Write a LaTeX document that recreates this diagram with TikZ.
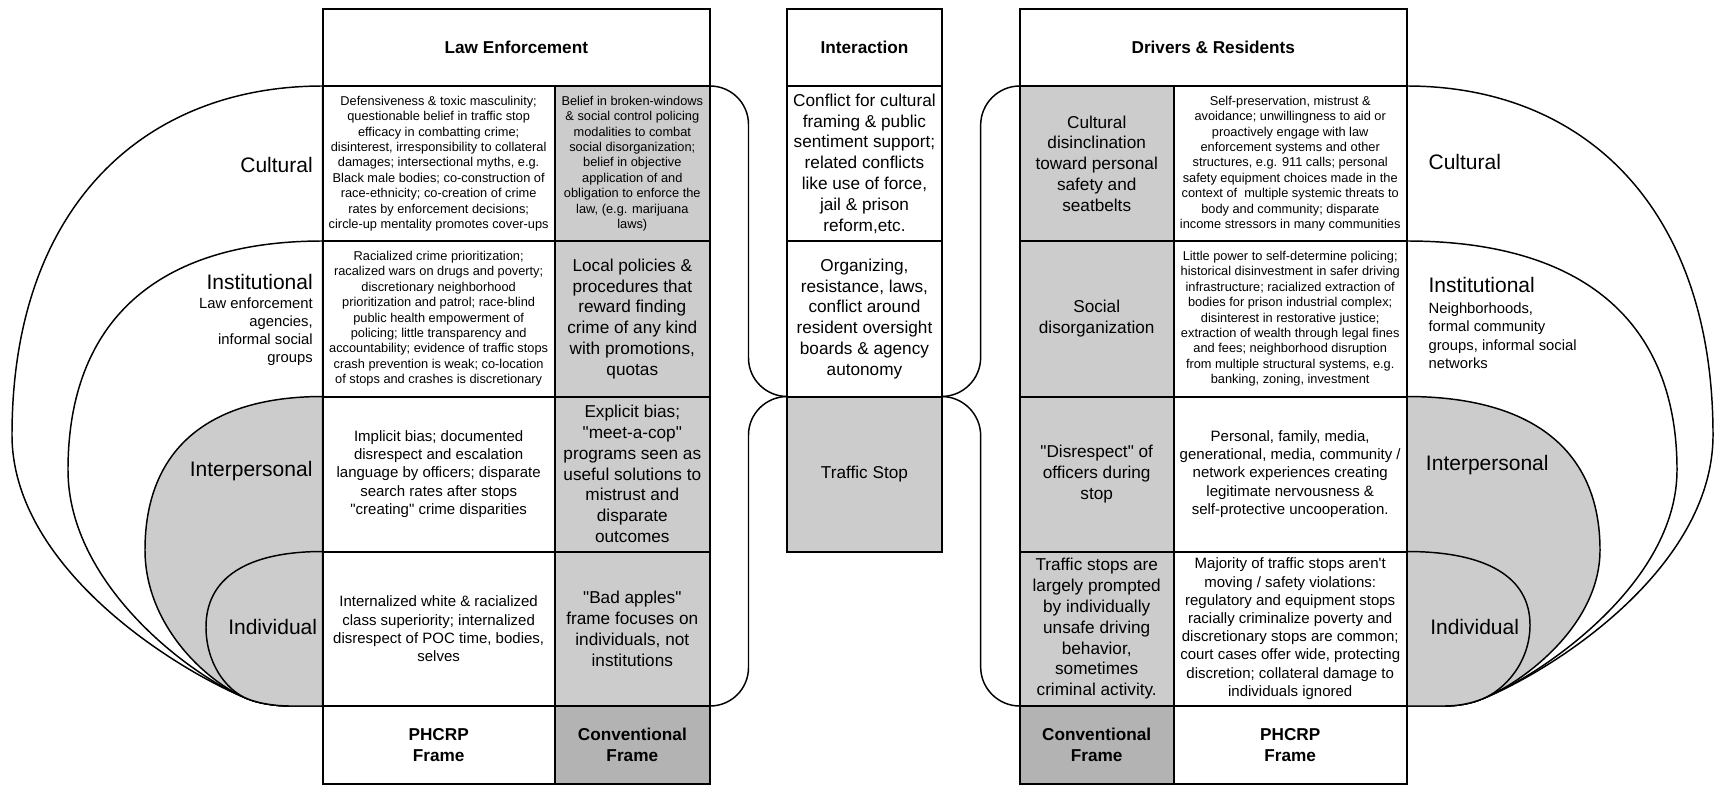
\documentclass[tikz,border=0pt]{standalone}
\usepackage{fontspec}
\newfontfamily\libsans{Liberation Sans}
\definecolor{cellgray}{HTML}{CCCCCC}
\definecolor{framegray}{HTML}{B3B3B3}
\newcommand\fsmall{\libsans\fontsize{9.6}{11.55}\selectfont}
\newcommand\fmid{\libsans\fontsize{11.25}{13.65}\selectfont}
\newcommand\fmed{\libsans\fontsize{12.9}{15.6}\selectfont}
\newcommand\fhead{\libsans\fontsize{12.9}{15.75}\selectfont\bfseries}
\newcommand\fbig{\libsans\fontsize{15.75}{18}\selectfont}
\newcommand\fsub{\libsans\fontsize{11.1}{13.6}\selectfont}
\begin{document}
\begin{tikzpicture}[x=0.75pt,y=-0.75pt,
  grid/.style={line width=1.5pt,draw=black},
  level/.style={line width=1.1pt,draw=black,line join=round},
  bracket/.style={line width=1.1pt,draw=black},
  txt/.style={inner sep=0pt,align=center,text=black},
  small/.style={txt,font=\fsmall},
  mid/.style={txt,font=\fmid},
  med/.style={txt,font=\fmed},
  hdr/.style={txt,font=\fhead},
  lvl/.style={inner sep=0pt,font=\fbig},
  sub/.style={inner sep=0pt,font=\fsub}]
\useasboundingbox (0,0) rectangle (1715,785);

% ---- socio-ecological levels, law enforcement side ----
\path[level,fill=white] (322.7,86) .. controls (142.5,86) and (12,208.2) .. (12,435)
  .. controls (12,567) and (174,669) .. (248,699)
  .. controls (259,703.5) and (276,706) .. (290,706) -- (322.7,706) -- cycle;
\path[level,fill=white] (322.7,241) .. controls (157.1,241) and (68,321.2) .. (68,470)
  .. controls (68,585) and (192,677) .. (248,699)
  .. controls (259,703.5) and (276,706) .. (290,706) -- (322.7,706) -- cycle;
\path[level,fill=cellgray] (322.7,396.5) .. controls (207.2,396.5) and (145,450.2) .. (145,550)
  .. controls (145,625) and (206,682) .. (248,699)
  .. controls (259,703.5) and (276,706) .. (290,706) -- (322.7,706) -- cycle;
\path[level,fill=cellgray] (322.7,551.5) .. controls (246.8,551.5) and (206,577.9) .. (206,627)
  .. controls (206,662) and (225,690) .. (248,699)
  .. controls (259,703.5) and (276,706) .. (290,706) -- (322.7,706) -- cycle;

% ---- socio-ecological levels, drivers & residents side ----
\path[level,fill=white] (1406.8,86) .. controls (1584.4,86) and (1713,208.2) .. (1713,435)
  .. controls (1713,567) and (1556,669) .. (1482,699)
  .. controls (1471,703.5) and (1458,706) .. (1444,706) -- (1406.8,706) -- cycle;
\path[level,fill=white] (1406.8,241) .. controls (1582.4,241) and (1677,321.2) .. (1677,470)
  .. controls (1677,585) and (1538,677) .. (1482,699)
  .. controls (1471,703.5) and (1458,706) .. (1444,706) -- (1406.8,706) -- cycle;
\path[level,fill=cellgray] (1406.8,396.5) .. controls (1532.4,396.5) and (1600,450.2) .. (1600,550)
  .. controls (1600,625) and (1524,682) .. (1482,699)
  .. controls (1471,703.5) and (1458,706) .. (1444,706) -- (1406.8,706) -- cycle;
\path[level,fill=cellgray] (1406.8,551.5) .. controls (1486.9,551.5) and (1530,577.2) .. (1530,625)
  .. controls (1530,662) and (1505,690) .. (1482,699)
  .. controls (1471,703.5) and (1458,706) .. (1444,706) -- (1406.8,706) -- cycle;

% ---- brackets tying the interaction column to both sides ----
\draw[bracket] (710,86) .. controls (731.3,86) and (748.5,103.2) .. (748.5,124.5)
  -- (748.5,358) .. controls (748.5,379.3) and (765.9,396.5) .. (787.4,396.5);
\draw[bracket] (787.4,396.5) .. controls (765.9,396.5) and (748.5,413.7) .. (748.5,435)
  -- (748.5,667.5) .. controls (748.5,688.8) and (731.3,706) .. (710,706);
\draw[bracket] (1019.8,86) .. controls (998.2,86) and (980.65,103.6) .. (980.65,125.2)
  -- (980.65,357.4) .. controls (980.65,379) and (963.1,396.5) .. (941.5,396.5);
\draw[bracket] (941.5,396.5) .. controls (963.1,396.5) and (980.65,414.1) .. (980.65,435.7)
  -- (980.65,666.9) .. controls (980.65,688.5) and (998.2,706) .. (1019.8,706);

% ---- table cells ----
\draw[grid,fill=white] (322.7,8.5) rectangle (710,86);
\draw[grid,fill=white] (787.4,8.5) rectangle (941.5,86);
\draw[grid,fill=white] (1019.8,8.5) rectangle (1406.8,86);
\foreach \ya/\yb in {86/241,241/396.5,396.5/551.5,551.5/706} {
  \draw[grid,fill=white] (322.7,\ya) rectangle (554.6,\yb);
  \draw[grid,fill=cellgray] (554.6,\ya) rectangle (710,\yb);
  \draw[grid,fill=cellgray] (1019.8,\ya) rectangle (1173.6,\yb);
  \draw[grid,fill=white] (1173.6,\ya) rectangle (1406.8,\yb);
}
\draw[grid,fill=white] (787.4,86) rectangle (941.5,241);
\draw[grid,fill=white] (787.4,241) rectangle (941.5,396.5);
\draw[grid,fill=cellgray] (787.4,396.5) rectangle (941.5,551.5);
\draw[grid,fill=white] (322.7,706) rectangle (554.6,783.5);
\draw[grid,fill=framegray] (554.6,706) rectangle (710,783.5);
\draw[grid,fill=framegray] (1019.8,706) rectangle (1173.6,783.5);
\draw[grid,fill=white] (1173.6,706) rectangle (1406.8,783.5);

% ---- headers ----
\node[hdr] (le-head) at (516.35,47.25) {Law Enforcement};
\node[hdr] (ia-head) at (864.45,47.25) {Interaction};
\node[hdr] (dr-head) at (1213.3,47.25) {Drivers \& Residents};

% ---- law enforcement cells ----
\node[small] (le-cul-p) at (438.65,163.5) {Defensiveness \& toxic masculinity;\\
questionable belief in traffic stop\\
efficacy in combatting crime;\\
disinterest, irresponsibility to collateral\\
damages; intersectional myths, e.g.\\
Black male bodies; co-construction of\\
race-ethnicity; co-creation of crime\\
rates by enforcement decisions;\\
circle-up mentality promotes cover-ups};
\node[small] (le-cul-c) at (632.3,163.5) {Belief in broken-windows\\
\& social control policing\\
modalities to combat\\
social disorganization;\\
belief in objective\\
application of and\\
obligation to enforce the\\
law, (e.g. marijuana\\
laws)};
\node[small] (le-ins-p) at (438.65,318.75) {Racialized crime prioritization;\\
racalized wars on drugs and poverty;\\
discretionary neighborhood\\
prioritization and patrol; race-blind\\
public health empowerment of\\
policing; little transparency and\\
accountability; evidence of traffic stops\\
crash prevention is weak; co-location\\
of stops and crashes is discretionary};
\node[med] (le-ins-c) at (632.3,318.75) {Local policies \&\\procedures that\\reward finding\\crime of any kind\\with promotions,\\quotas};
\node[mid] (le-int-p) at (438.65,474) {Implicit bias; documented\\disrespect and escalation\\language by officers; disparate\\search rates after stops\\"creating" crime disparities};
\node[med] (le-int-c) at (632.3,474) {Explicit bias;\\"meet-a-cop"\\programs seen as\\useful solutions to\\mistrust and\\disparate\\outcomes};
\node[mid] (le-ind-p) at (438.65,628.75) {Internalized white \& racialized\\class superiority; internalized\\disrespect of POC time, bodies,\\selves};
\node[med] (le-ind-c) at (632.3,628.75) {"Bad apples"\\frame focuses on\\individuals, not\\institutions};
\node[hdr] (le-foot-p) at (438.65,744.75) {PHCRP\\Frame};
\node[hdr] (le-foot-c) at (632.3,744.75) {Conventional\\Frame};

% ---- interaction cells ----
\node[med] (ia-cul) at (864.45,163.5) {Conflict for cultural\\framing \& public\\sentiment support;\\related conflicts\\like use of force,\\jail \& prison\\reform,etc.};
\node[med] (ia-ins) at (864.45,318.75) {Organizing,\\resistance, laws,\\conflict around\\resident oversight\\boards \& agency\\autonomy};
\node[med] (ia-stop) at (864.45,474) {Traffic Stop};

% ---- drivers & residents cells ----
\node[med] (dr-cul-c) at (1096.7,163.5) {Cultural\\disinclination\\toward personal\\safety and\\seatbelts};
\node[small] (dr-cul-p) at (1290.2,163.5) {Self-preservation, mistrust \&\\
avoidance; unwillingness to aid or\\
proactively engage with law\\
enforcement systems and other\\
structures, e.g. 911 calls; personal\\
safety equipment choices made in the\\
context of \ multiple systemic threats to\\
body and community; disparate\\
income stressors in many communities};
\node[med] (dr-ins-c) at (1096.7,318.75) {Social\\disorganization};
\node[small] (dr-ins-p) at (1290.2,318.75) {Little power to self-determine policing;\\
historical disinvestment in safer driving\\
infrastructure; racialized extraction of\\
bodies for prison industrial complex;\\
disinterest in restorative justice;\\
extraction of wealth through legal fines\\
and fees; neighborhood disruption\\
from multiple structural systems, e.g.\\
banking, zoning, investment};
\node[med] (dr-int-c) at (1096.7,474) {"Disrespect" of\\officers during\\stop};
\node[mid] (dr-int-p) at (1290.2,474) {Personal, family, media,\\generational, media, community /\\network experiences creating\\legitimate nervousness \&\\self-protective uncooperation.};
\node[med] (dr-ind-c) at (1096.7,628.75) {Traffic stops are\\largely prompted\\by individually\\unsafe driving\\behavior,\\sometimes\\criminal activity.};
\node[mid] (dr-ind-p) at (1290.2,628.75) {Majority of traffic stops aren't\\moving / safety violations:\\regulatory and equipment stops\\racially criminalize poverty and\\discretionary stops are common;\\court cases offer wide, protecting\\discretion; collateral damage to\\individuals ignored};
\node[hdr] (dr-foot-c) at (1096.7,744.75) {Conventional\\Frame};
\node[hdr] (dr-foot-p) at (1290.2,744.75) {PHCRP\\Frame};

% ---- level labels ----
\node[lvl,anchor=east] (l-cul) at (313,165) {Cultural};
\node[lvl,anchor=east] (l-ins) at (313,281.7) {Institutional};
\node[sub,anchor=east,align=right] (l-ins-sub) at (313,331.5) {Law enforcement\\agencies,\\informal social\\groups};
\node[lvl,anchor=east] (l-int) at (312.7,470.7) {Interpersonal};
\node[lvl,anchor=east] (l-ind) at (317.3,626.7) {Individual};
\node[lvl,anchor=west] (r-cul) at (1428.3,161.7) {Cultural};
\node[lvl,anchor=west] (r-ins) at (1428.3,285) {Institutional};
\node[sub,anchor=west,align=left] (r-ins-sub) at (1428.3,335.7) {Neighborhoods,\\formal community\\groups, informal social\\networks};
\node[lvl,anchor=west] (r-int) at (1425.7,465) {Interpersonal};
\node[lvl,anchor=west] (r-ind) at (1430,626.7) {Individual};
\end{tikzpicture}
\end{document}
